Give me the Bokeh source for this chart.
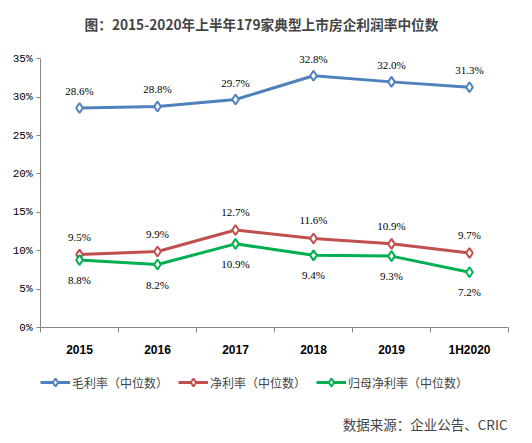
from bokeh.plotting import figure
from bokeh.layouts import column
from bokeh.models import (ColumnDataSource, LabelSet, Label, Legend, LegendItem,
                          FixedTicker, Range1d, Title)
from bokeh.embed import file_html
from bokeh.resources import INLINE

# 数据（单位：%）
years = ["2015", "2016", "2017", "2018", "2019", "1H2020"]
gross_margin = [28.6, 28.8, 29.7, 32.8, 32.0, 31.3]
net_margin = [9.5, 9.9, 12.7, 11.6, 10.9, 9.7]
parent_net_margin = [8.8, 8.2, 10.9, 9.4, 9.3, 7.2]
y_ticks = [0, 5, 10, 15, 20, 25, 30, 35]

series = [
    ("毛利率（中位数）", gross_margin, "#4F81BD", 17),
    ("净利率（中位数）", net_margin, "#C0504D", 18),
    ("归母净利率（中位数）", parent_net_margin, "#00B050", -20),
]

CJK = "Noto Sans CJK SC"
MONO = "Liberation Mono"

# 主图
p = figure(width=532, height=360, output_backend="svg", toolbar_location=None,
           x_range=Range1d(0, len(years)), y_range=Range1d(0, 37),
           min_border_left=40, min_border_right=24, min_border_top=43,
           min_border_bottom=33)
p.outline_line_color = None
p.grid.grid_line_color = None

xs = [i + 0.5 for i in range(len(years))]
for name, vals, color, off in series:
    src = ColumnDataSource(dict(x=xs, y=vals, lbl=[f"{v:.1f}%" for v in vals]))
    p.line("x", "y", source=src, line_color=color, line_width=3)
    p.scatter("x", "y", source=src, marker="diamond", size=10,
              fill_color="white", line_color=color, line_width=2)
    p.add_layout(LabelSet(x="x", y="y", text="lbl", source=src, y_offset=off,
                          text_align="center", text_baseline="middle",
                          text_font=MONO, text_font_size="11px", text_color="#000000"))

# y 轴
p.yaxis.bounds = (0, 35)
p.yaxis.ticker = FixedTicker(ticks=y_ticks)
p.yaxis.major_label_overrides = {t: f"{t}%" for t in y_ticks}
p.yaxis.axis_line_color = "#868686"
p.yaxis.major_tick_line_color = "#868686"
p.yaxis.major_tick_out = 4
p.yaxis.major_tick_in = 0
p.yaxis.minor_tick_line_color = None
p.yaxis.major_label_standoff = 4
p.yaxis.major_label_text_font = MONO
p.yaxis.major_label_text_font_size = "11px"
p.yaxis.major_label_text_color = "#000000"

# x 轴：刻度在分类边界
p.xaxis.ticker = FixedTicker(ticks=xs, minor_ticks=list(range(len(years) + 1)))
p.xaxis.major_label_overrides = {x: y for x, y in zip(xs, years)}
p.xaxis.axis_line_color = "#868686"
p.xaxis.major_tick_out = 0
p.xaxis.major_tick_in = 0
p.xaxis.minor_tick_line_color = "#868686"
p.xaxis.minor_tick_out = 5
p.xaxis.minor_tick_in = 0
p.xaxis.major_label_standoff = 10
p.xaxis.major_label_text_font = "Liberation Sans"
p.xaxis.major_label_text_font_style = "bold"
p.xaxis.major_label_text_font_size = "12px"
p.xaxis.major_label_text_color = "#000000"

p.add_layout(Title(text="图：2015-2020年上半年179家典型上市房企利润率中位数",
                   align="left", offset=44, standoff=19,
                   text_font=CJK, text_font_size="13.7px", text_font_style="bold"),
             "above")

# 图例与数据来源（x 坐标与页面像素一致）
q = figure(width=532, height=83, output_backend="svg", toolbar_location=None,
           x_range=Range1d(40, 508), y_range=Range1d(0, 83),
           x_axis_location=None, y_axis_location=None,
           min_border_left=40, min_border_right=24, min_border_top=0,
           min_border_bottom=0)
q.grid.grid_line_color = None
q.outline_line_color = None

items = []
for name, vals, color, off in series:
    r1 = q.line([-50, -40], [-50, -50], line_color=color, line_width=3)
    r2 = q.scatter([-50], [-50], marker="diamond", size=10, fill_color="white",
                   line_color=color, line_width=2)
    items.append(LegendItem(label=name, renderers=[r1, r2]))

legend = Legend(items=items, orientation="horizontal", location=(0, 51),
                border_line_color=None, background_fill_alpha=0,
                label_text_font=CJK, label_text_font_size="12px",
                glyph_width=30, spacing=10, label_standoff=2,
                padding=0, margin=0)
q.add_layout(legend, "center")

q.add_layout(Label(x=507, y=20, text="数据来源：企业公告、CRIC",
                   text_font=CJK, text_font_size="13.5px",
                   text_align="right", text_baseline="middle"))

open("out.html", "w").write(file_html(column(p, q, spacing=0), INLINE))
